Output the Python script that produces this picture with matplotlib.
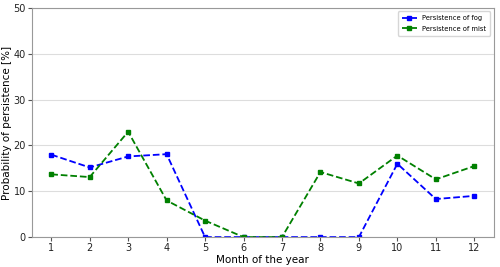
import matplotlib
matplotlib.use("Agg")
import matplotlib.pyplot as plt

months = [1, 2, 3, 4, 5, 6, 7, 8, 9, 10, 11, 12]
fog = [18.0, 15.2, 17.6, 18.1, 0, 0, 0, 0, 0, 16.0, 8.3, 9.0]
mist = [13.7, 13.1, 23.0, 8.0, 3.6, 0, 0, 14.2, 11.7, 17.8, 12.6, 15.5]

fig, ax = plt.subplots(figsize=(5, 2.67), dpi=100)
fig.subplots_adjust(left=0.064, right=0.987, top=0.97, bottom=0.112)

ax.plot(months, fog, color="blue", linestyle="--", marker="s", markersize=2.2,
        linewidth=1.3, label="Persistence of fog")
ax.plot(months, mist, color="green", linestyle="--", marker="s", markersize=2.2,
        linewidth=1.3, label="Persistence of mist")

ax.set_xlim(0.5, 12.5)
ax.set_ylim(0, 50)
ax.set_xticks(months)
ax.set_yticks([0, 10, 20, 30, 40, 50])
ax.tick_params(labelsize=7, length=3, pad=1.5, color="#555555", labelcolor="#222222")
ax.grid(axis="y", color="#dddddd", linewidth=0.8)
ax.set_axisbelow(True)
for s in ax.spines.values():
    s.set_color("#999999")

ax.set_xlabel("Month of the year", fontsize=7.5, labelpad=1)
ax.set_ylabel("Probability of persistence [%]", fontsize=7.5, labelpad=1)
ax.legend(fontsize=4.9, loc="upper right", handlelength=2.2, borderpad=0.6,
          labelspacing=0.6)

fig.savefig("out.png")
